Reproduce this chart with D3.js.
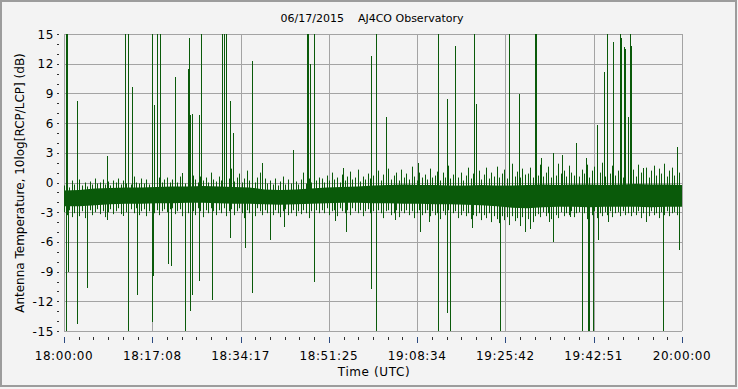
<!DOCTYPE html>
<html>
<head>
<meta charset="utf-8">
<script src="https://cdn.jsdelivr.net/npm/d3@7"></script>
<style>
  html, body { margin: 0; padding: 0; background: #f3f3f3; }
  svg { display: block; font-family: "DejaVu Sans", Verdana, sans-serif; }
</style>
</head>
<body>
<div id="chart"></div>
<script>
// chart text
const titleText = "06/17/2015    AJ4CO Observatory";
const xLabel = "Time (UTC)";
const yLabel = "Antenna Temperature, 10log[RCP/LCP] (dB)";
const timeLabels = ["18:00:00", "18:17:08", "18:34:17", "18:51:25", "19:08:34", "19:25:42", "19:42:51", "20:00:00"];
const yTicks = [15, 12, 9, 6, 3, 0, -3, -6, -9, -12, -15];

// dense band, read every 3 minutes (minutes after 18:00)
const coreHi = [-0.8, -0.75, -0.6, -0.55, -0.5, -0.5, -0.45, -0.4, -0.4, -0.35,
  -0.4, -0.45, -0.5, -0.7, -0.75, -0.7, -0.6, -0.5, -0.45, -0.4,
  -0.3, -0.25, -0.2, -0.25, -0.25, -0.3, -0.3, -0.25, -0.3, -0.3,
  -0.25, -0.2, -0.25, -0.2, -0.2, -0.25, -0.2, -0.15, -0.2, -0.2, -0.25];
const coreLo = [-2.4, -2.4, -2.3, -2.2, -2.15, -2.15, -2.1, -2.1, -2.05, -2.05,
  -2.1, -2.15, -2.15, -2.2, -2.25, -2.2, -2.15, -2.1, -2.05, -2.05,
  -2.1, -2.1, -2.15, -2.15, -2.2, -2.2, -2.25, -2.3, -2.4, -2.55,
  -2.6, -2.5, -2.45, -2.45, -2.5, -2.45, -2.45, -2.45, -2.5, -2.45, -2.45];

// noise extremes, every half minute
const fuzzHi = [
  -0.3, 0.0, -0.5, 0.2, -0.2, -0.4, 0.3, -0.3, 0.0, -0.4, 0.1, -0.2, 0.4, -0.1, 0.0, 0.3, -0.2, 0.1, -0.3, 0.2,
  0.0, 0.4, -0.2, 0.2, -0.1, 0.5, -0.2, 0.6, 0.0, -0.1, 0.4, -0.1, 0.3, -0.2, 0.7, 0.1, -0.1, 0.5, 0.0, 0.3,
  0.5, 0.0, 0.3, 0.8, 0.0, 0.6, 0.2, -0.1, 0.9, 0.1, 0.7, 0.3, 0.0, 0.6, 0.2, 0.5, 0.0, 1.0, 0.3, 0.1,
  0.6, 0.2, 1.1, 0.0, 0.4, 1.4, 0.1, 0.5, 0.9, 0.0, 0.4, 1.2, 0.2, 0.7, 0.0, 0.5, 1.0, 0.1, 0.4, -0.1,
  0.2, -0.2, 0.4, -0.3, 0.1, 0.6, -0.2, 0.3, -0.1, 0.8, 0.1, -0.2, 0.3, 1.0, -0.1, 0.4, 0.0, 0.9, 0.2, 0.5,
  0.4, 0.0, 0.7, 0.2, 1.0, 0.3, 0.5, 0.0, 0.8, 0.2, 0.6, 1.1, 0.3, 0.5, 1.3, 0.1, 0.6, 0.3, 0.9, 0.4,
  0.7, 0.3, 1.2, 0.2, 0.8, 0.5, 1.4, 0.3, 0.7, 1.0, 0.2, 1.3, 0.5, 0.9, 0.3, 1.6, 0.6, 0.2, 1.0, 0.5,
  0.8, 0.3, 1.4, 0.5, 0.7, 1.1, 0.2, 1.0, 0.5, 1.7, 0.4, 0.8, 1.3, 0.5, 1.0, 0.2, 0.7, 1.5, 0.4, 0.9,
  0.5, 1.2, 0.3, 0.8, 1.5, 0.4, 1.0, 0.6, 1.6, 0.5, 0.9, 1.3, 0.4, 1.0, 1.9, 0.6, 1.1, 0.5, 1.4, 0.8,
  0.9, 1.5, 0.5, 1.2, 0.7, 1.8, 0.6, 1.0, 1.6, 0.5, 1.3, 0.7, 1.9, 0.9, 1.2, 0.6, 1.7, 1.0, 0.7, 1.5,
  0.6, 1.3, 0.9, 1.8, 0.5, 1.2, 1.6, 0.7, 1.0, 2.0, 0.6, 1.3, 0.9, 1.7, 0.7, 1.2, 1.5, 0.5, 1.0, 1.6,
  0.7, 1.3, 0.6, 1.8, 1.0, 0.9, 1.5, 0.5, 1.2, 1.7, 0.7, 1.4, 0.9, 1.9, 0.6, 1.2, 1.5, 0.7, 1.8, 1.0, 1.3];
const fuzzLo = [
  -3.0, -3.3, -2.8, -3.5, -3.1, -2.8, -3.4, -2.9, -3.6, -3.1, -2.8, -3.3, -3.0, -2.7, -3.2, -2.9, -3.5, -3.0, -2.7, -3.2,
  -2.9, -2.6, -3.2, -2.8, -3.0, -3.4, -2.7, -3.1, -2.6, -3.3, -2.9, -2.7, -3.4, -2.9, -2.6, -3.1, -2.8, -3.3, -2.9, -2.7,
  -3.0, -2.7, -2.6, -3.2, -2.9, -2.7, -3.4, -2.6, -3.1, -2.8, -2.9, -3.3, -2.6, -2.9, -3.5, -2.8, -3.1, -2.6, -2.9, -3.3,
  -2.8, -3.1, -2.6, -3.4, -2.9, -2.7, -3.3, -2.9, -2.6, -3.1, -3.6, -2.8, -3.1, -2.9, -3.4, -2.6, -2.9, -3.3, -2.8, -3.1,
  -2.9, -3.3, -2.8, -3.1, -3.5, -2.9, -2.7, -3.3, -3.1, -2.8, -3.4, -2.9, -3.2, -2.8, -3.1, -3.6, -2.9, -3.3, -2.8, -3.1,
  -2.8, -3.1, -2.6, -3.3, -2.9, -2.8, -3.4, -2.6, -2.9, -3.1, -2.8, -3.3, -2.6, -2.9, -3.1, -2.8, -3.4, -2.9, -2.7, -3.1,
  -2.9, -3.3, -2.8, -3.1, -3.6, -2.9, -2.8, -3.3, -3.1, -2.8, -3.5, -2.9, -3.1, -2.8, -3.3, -2.9, -3.6, -3.1, -2.8, -3.3,
  -3.1, -2.8, -3.4, -2.9, -3.3, -3.1, -3.7, -2.9, -3.3, -2.8, -3.4, -3.1, -2.9, -3.6, -3.3, -2.9, -3.4, -3.1, -3.7, -3.3,
  -3.4, -3.1, -3.8, -3.3, -3.6, -3.1, -4.0, -3.4, -3.7, -4.1, -3.4, -3.8, -3.5, -4.3, -3.4, -3.9, -3.6, -4.4, -3.5, -3.8,
  -3.7, -3.3, -4.0, -3.4, -3.2, -3.5, -3.0, -3.4, -3.1, -3.7, -3.0, -3.3, -3.6, -3.0, -3.4, -3.1, -3.3, -2.9, -3.5, -3.1,
  -3.0, -3.4, -3.1, -3.7, -3.0, -3.3, -2.9, -3.6, -3.1, -3.4, -3.0, -3.3, -2.9, -3.5, -3.1, -3.0, -3.4, -2.9, -3.3, -3.1,
  -3.4, -3.0, -3.3, -2.9, -3.6, -3.1, -3.0, -3.4, -2.9, -3.3, -3.1, -3.6, -3.0, -3.3, -2.9, -3.4, -3.1, -3.0, -3.3, -2.9, -3.2];

// isolated spikes: [minute, dB]
const spikesUp = [
  [0.33, 15], [0.52, 15], [2.47, 8.2], [8.41, 2.7], [11.9, 15], [12.49, 15], [13.14, 9.6],
  [17.03, 15], [17.53, 7.8], [18.12, 15], [18.64, 15], [21.61, 10.7], [22.85, 1.0],
  [24.14, 11.5], [24.33, 14.6], [24.52, 6.8], [24.91, 6.9], [26.27, 6.8], [26.6, 15],
  [30.74, 15], [31.07, 15], [31.4, 15], [32.29, 8.2], [32.87, 5.0], [36.56, 12.3], [38.45, 2.0],
  [44.47, 3.3], [47.24, 15], [47.44, 15], [47.71, 12], [48.6, 15], [54.17, 1.5],
  [59.67, 12.8], [60.64, 15], [62.58, 6.6], [68.73, 2.0], [72.68, 15], [74.43, 8.4], [75.86, 13.8],
  [79.67, 15], [80.06, 7.9], [86.46, 15], [88.29, 8.9], [91.39, 15], [91.59, 15], [91.71, 8.7],
  [92.62, 2.5], [94.95, 3.0], [96.7, 2.8], [99.42, 4.0], [101.36, 2.5], [103.49, 5.8],
  [104.91, 11.2], [105.49, 15], [106.66, 14.2], [108.02, 15], [108.21, 14.6], [108.79, 13.7],
  [108.98, 13.5], [109.57, 6.6], [109.96, 15], [110.15, 13.8], [112.42, 1.5], [119.03, 3.6]];
const spikesDown = [
  [0.33, -15], [0.72, -9], [2.47, -14.3], [4.52, -10.7], [8.41, -3.8], [11.51, -3.4],
  [12.49, -15], [14.23, -11.4], [17.03, -9.2], [17.18, -14.1], [17.34, -9.4], [20.25, -8.2],
  [20.83, -8.4], [23.49, -15], [24.52, -13], [24.85, -11.4], [26.15, -9.9], [28.8, -11.9],
  [32.23, -5.6], [35.24, -6.6], [36.56, -11.2], [40.0, -5.8], [42.72, -4.5], [48.54, -10.1],
  [52.62, -3.9], [54.76, -5.0], [59.67, -10.8], [60.64, -15], [64.27, -3.8], [69.12, -5.0],
  [70.87, -4.0], [72.68, -15], [74.43, -13.2], [74.95, -15], [79.22, -4.6], [84.72, -15],
  [89.51, -5.0], [90.48, -4.7], [94.17, -4.0], [94.95, -6.0], [98.25, -3.5], [100.52, -15],
  [100.64, -14], [101.8, -15], [101.99, -15], [102.77, -15], [103.69, -5.8], [105.63, -4.0],
  [113.0, -4.0], [116.37, -15], [119.42, -6.8]];

class RatioChart {
  constructor(config) {
    this.config = config;
    this.svg = null;
    this.x = null;
    this.y = null;
    this.init();
  }

  init() {
    this.createSvg();
    this.setupScales();
    this.drawGrid();
    this.drawData();
    this.drawAxes();
    this.drawTexts();
  }

  createSvg() {
    this.svg = d3.select("#chart")
      .append("svg")
      .attr("width", this.config.width)
      .attr("height", this.config.height);

    this.svg.append("rect")
      .attr("x", 1).attr("y", 1)
      .attr("width", this.config.width - 3)
      .attr("height", this.config.height - 4)
      .attr("fill", "#f3f3f3")
      .attr("stroke", "#9c9c9c")
      .attr("stroke-width", 2);
  }

  setupScales() {
    const p = this.config.plot;
    this.x = d3.scaleLinear().domain([0, 120]).range([p.left, p.right]);
    this.y = d3.scaleLinear().domain([-15, 15]).range([p.bottom, p.top]);
  }

  drawGrid() {
    const p = this.config.plot;
    const g = this.svg.append("g")
      .attr("stroke", "#a3a3a3")
      .attr("shape-rendering", "crispEdges");

    g.selectAll(".hgrid")
      .data(yTicks)
      .enter().append("line")
      .attr("x1", p.left).attr("x2", p.right)
      .attr("y1", d => Math.round(this.y(d)) + 0.5)
      .attr("y2", d => Math.round(this.y(d)) + 0.5);

    g.selectAll(".vgrid")
      .data(timeLabels)
      .enter().append("line")
      .attr("x1", (d, i) => Math.round(this.x(i * 120 / 7)) + 0.5)
      .attr("x2", (d, i) => Math.round(this.x(i * 120 / 7)) + 0.5)
      .attr("y1", p.top).attr("y2", p.bottom);
  }

  drawData() {
    const p = this.config.plot;
    const green = "#0a5a0a";

    this.svg.append("clipPath").attr("id", "plot-clip")
      .append("rect")
      .attr("x", p.left).attr("y", p.top)
      .attr("width", p.right - p.left).attr("height", p.bottom - p.top + 1);

    const g = this.svg.append("g").attr("clip-path", "url(#plot-clip)");

    // dense part of the noise band
    const area = d3.area()
      .x((d, i) => this.x(i * 3))
      .y0((d, i) => this.y(coreLo[i]))
      .y1(d => this.y(d));
    g.append("path")
      .datum(coreHi)
      .attr("d", area)
      .attr("fill", green);

    // ragged edges
    g.selectAll(".fuzz")
      .data(fuzzHi)
      .enter().append("line")
      .attr("class", "fuzz")
      .attr("x1", (d, i) => Math.round(this.x(i * 0.5)) + 0.5)
      .attr("x2", (d, i) => Math.round(this.x(i * 0.5)) + 0.5)
      .attr("y1", (d, i) => this.y(fuzzLo[i]))
      .attr("y2", d => this.y(d))
      .attr("stroke", green)
      .attr("stroke-width", 1);

    // spikes from the band
    const spikes = spikesUp.concat(spikesDown);
    g.selectAll(".spike")
      .data(spikes)
      .enter().append("line")
      .attr("class", "spike")
      .attr("x1", d => Math.round(this.x(d[0])) + 0.5)
      .attr("x2", d => Math.round(this.x(d[0])) + 0.5)
      .attr("y1", this.y(-1.3))
      .attr("y2", d => this.y(d[1]))
      .attr("stroke", green)
      .attr("stroke-width", 1)
      .attr("shape-rendering", "crispEdges");
  }

  drawAxes() {
    const g = this.svg.append("g")
      .attr("stroke", "#303030")
      .attr("shape-rendering", "crispEdges");

    // x ticks, 6 steps between labels
    const xt = d3.range(43);
    g.selectAll(".xtick")
      .data(xt)
      .enter().append("line")
      .attr("x1", d => Math.round(this.x(d * 120 / 42)) + 0.5)
      .attr("x2", d => Math.round(this.x(d * 120 / 42)) + 0.5)
      .attr("y1", 337)
      .attr("y2", d => d % 6 === 0 ? 343 : 340)
      .attr("stroke", d => d % 6 === 0 ? "#2c4a80" : "#303030");

    // y ticks every dB
    const yt = d3.range(-15, 16);
    g.selectAll(".ytick")
      .data(yt)
      .enter().append("line")
      .attr("x1", 57).attr("x2", 59)
      .attr("y1", d => Math.round(this.y(d)) + 0.5)
      .attr("y2", d => Math.round(this.y(d)) + 0.5);

    this.svg.selectAll(".ylab")
      .data(yTicks)
      .enter().append("text")
      .attr("x", 54)
      .attr("y", d => this.y(d) + 4.5)
      .attr("text-anchor", "end")
      .attr("font-size", 12)
      .attr("letter-spacing", 0.6)
      .text(d => String(d));

    this.svg.selectAll(".xlab")
      .data(timeLabels)
      .enter().append("text")
      .attr("x", (d, i) => this.x(i * 120 / 7))
      .attr("y", 360)
      .attr("text-anchor", "middle")
      .attr("font-size", 12)
      .attr("letter-spacing", 0.6)
      .text(d => d);
  }

  drawTexts() {
    this.svg.append("text")
      .attr("x", 372).attr("y", 22)
      .attr("text-anchor", "middle")
      .attr("font-size", 11)
      .attr("xml:space", "preserve")
      .style("white-space", "pre")
      .text(titleText);

    this.svg.append("text")
      .attr("x", 374).attr("y", 376)
      .attr("text-anchor", "middle")
      .attr("font-size", 12)
      .attr("letter-spacing", 0.6)
      .text(xLabel);

    this.svg.append("text")
      .attr("transform", "translate(24,183) rotate(-90)")
      .attr("text-anchor", "middle")
      .attr("font-size", 12)
      .text(yLabel);
  }
}

new RatioChart({
  width: 738,
  height: 389,
  plot: { left: 64, right: 682, top: 34, bottom: 331 }
});
</script>
</body>
</html>
